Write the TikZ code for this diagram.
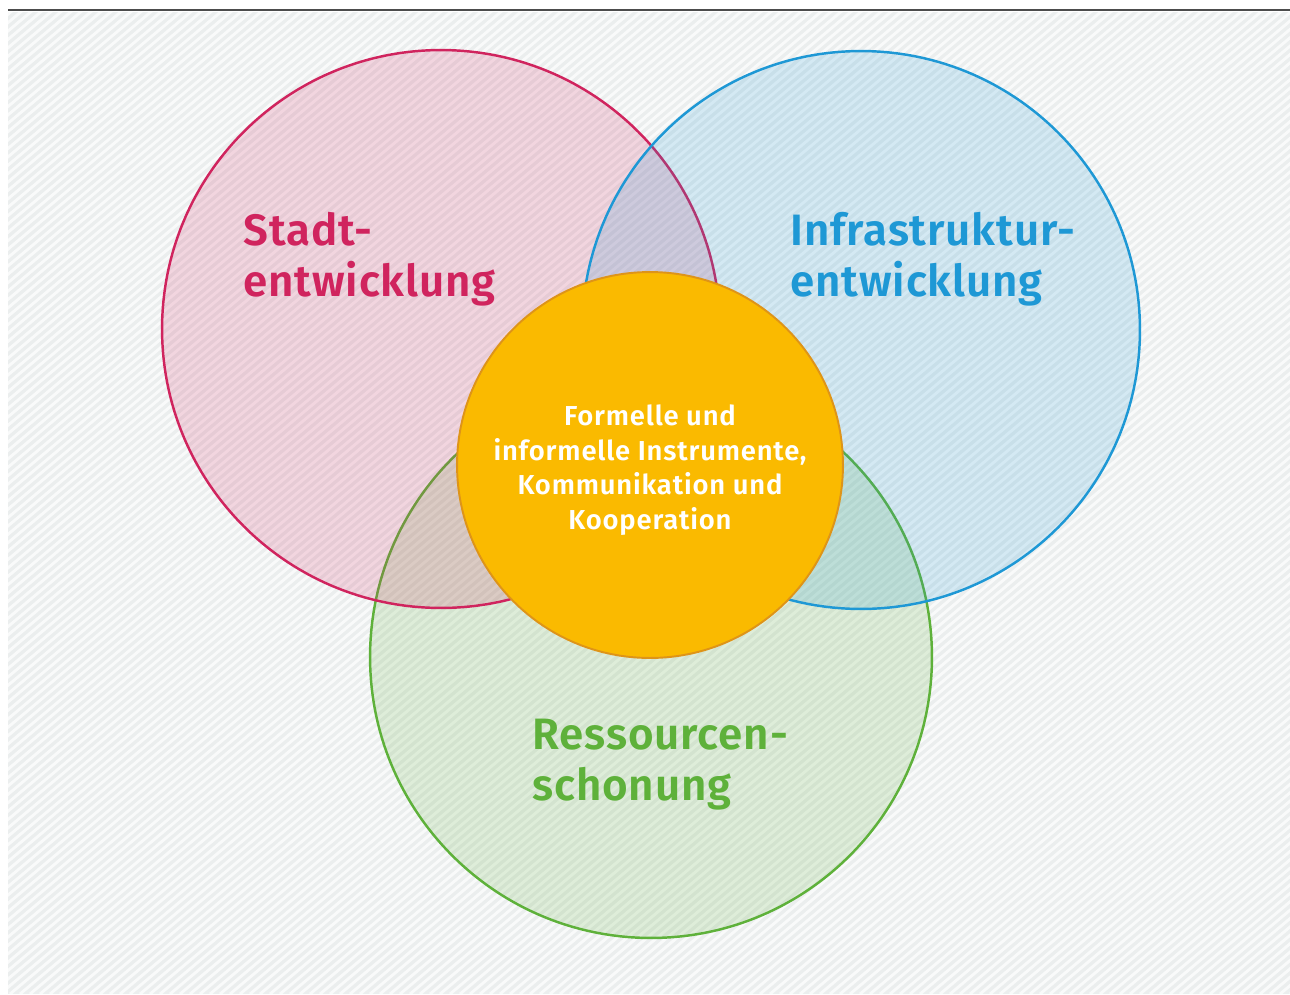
\documentclass[tikz,border=0pt]{standalone}
\usepackage{fontspec}
\setmainfont{Fira Sans}[BoldFont={Fira Sans SemiBold}]
\usepackage{tikz}
\usetikzlibrary{positioning}
\definecolor{stadtrot}{RGB}{208,36,94}
\definecolor{infrablau}{RGB}{30,152,213}
\definecolor{ressgruen}{RGB}{94,177,58}
\definecolor{kerngelb}{RGB}{250,186,0}
\definecolor{kernrand}{RGB}{222,148,24}
\definecolor{hintergrund}{RGB}{235,238,238}
\tikzset{
  kreis/.style={circle,draw=#1,fill=#1,fill opacity=0.17,draw opacity=1,line width=1.4pt,inner sep=0pt},
  titel/.style={text=#1,font=\bfseries\fontsize{25}{28.8}\selectfont\addfontfeatures{LetterSpace=2},align=left,inner sep=0pt,anchor=north west},
}

\begin{document}
\begin{tikzpicture}[x=0.02cm,y=-0.02cm]
\useasboundingbox (0,0) rectangle (1290,994);
\fill[hintergrund](8,12) rectangle (1290,994); % background
\begin{scope}
\clip (8,12) rectangle (1290,994);
\foreach \k in {-1190,-1180,...,1290}
  \draw[white,opacity=0.75,line width=1.6pt](\k,994) -- (\k+1185,0); % stripes
\end{scope}
\draw[black!70,line width=1.1pt](8,10) to (1290,10); % top rule

\node[kreis=ressgruen,minimum size=11.24cm] (ress) at (651,657) {}; % green
\node[kreis=stadtrot,minimum size=11.16cm] (stadt) at (441,329) {}; % pink
\node[kreis=infrablau,minimum size=11.16cm] (infra) at (861,330) {}; % blue
\node[circle,fill=kerngelb,draw=kernrand,line width=1.1pt,minimum size=7.72cm,inner sep=0pt] (kern) at (650,465) {}; % centre
\node[text=white,align=center,font=\bfseries\fontsize{15.6}{19.7}\selectfont\addfontfeatures{LetterSpace=3}]
      (kerntext) at ([yshift=-0.1cm]kern.center)
      {Formelle und\\informelle Instrumente,\\Kommunikation und\\Kooperation};

%labels
\node[titel=stadtrot] (stadttext) at (243,212) {Stadt-\\entwicklung};
\node[titel=infrablau] (infratext) at (790,212) {Infrastruktur-\\entwicklung};
\node[titel=ressgruen] (resstext) at (532,719) {Ressourcen-\\schonung};
\end{tikzpicture}
\end{document}
